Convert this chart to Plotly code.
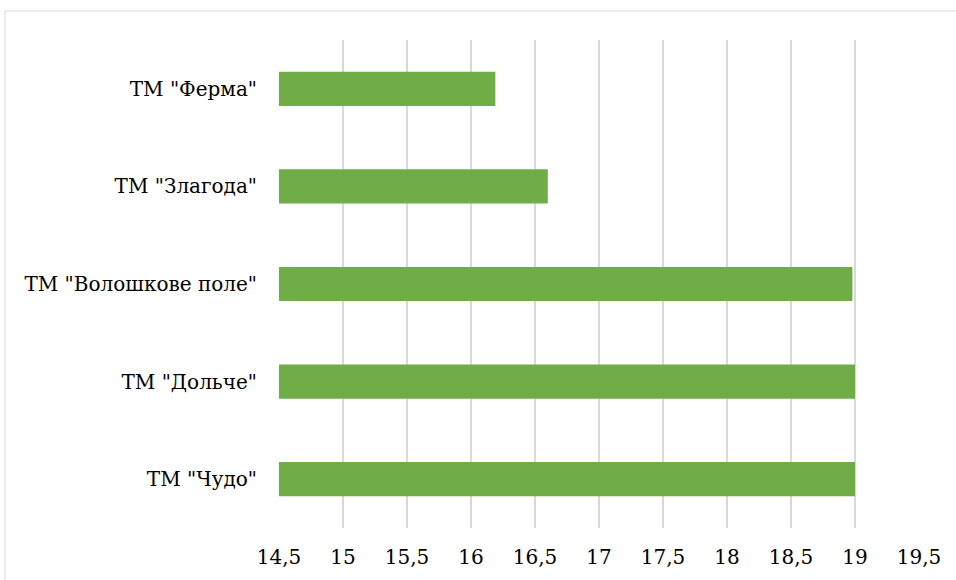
import plotly.graph_objects as go

categories = ['ТМ "Чудо"', 'ТМ "Дольче"', 'ТМ "Волошкове поле"', 'ТМ "Злагода"', 'ТМ "Ферма"']
values = [19.0, 19.0, 18.98, 16.6, 16.19]
base_value = 14.5
tick_vals = [14.5, 15, 15.5, 16, 16.5, 17, 17.5, 18, 18.5, 19, 19.5]
tick_text = ["14,5", "15", "15,5", "16", "16,5", "17", "17,5", "18", "18,5", "19", "19,5"]

FONT = dict(family="DejaVu Serif", size=20, color="black")

fig = go.Figure(go.Bar(
    y=categories,
    x=[v - base_value for v in values],
    base=base_value,
    orientation="h",
    marker=dict(color="#70AD47", line=dict(width=0)),
    width=0.35,
    hoverinfo="skip",
))

fig.update_layout(
    width=956, height=580,
    margin=dict(l=279, r=37, t=40, b=52),
    paper_bgcolor="white", plot_bgcolor="white",
    font=FONT,
    showlegend=False,
    xaxis=dict(range=[14.5, 19.5], tickvals=tick_vals, ticktext=tick_text,
               showgrid=True, gridcolor="#d9d9d9", gridwidth=1.5,
               zeroline=False, showline=False, ticks="", ticklabelstandoff=15,
               tickfont=FONT, fixedrange=True),
    yaxis=dict(showgrid=False, zeroline=False, showline=False, ticks="",
               ticklabelstandoff=21, tickfont=FONT, fixedrange=True),
    shapes=[dict(type="rect", xref="paper", yref="paper",
                 x0=(5 - 279) / 640, x1=1.2, y0=-0.3, y1=(528 - 11) / 488,
                 line=dict(color="#d9d9d9", width=1), fillcolor="rgba(0,0,0,0)", layer="below")],
)

fig.write_html("out.html")
